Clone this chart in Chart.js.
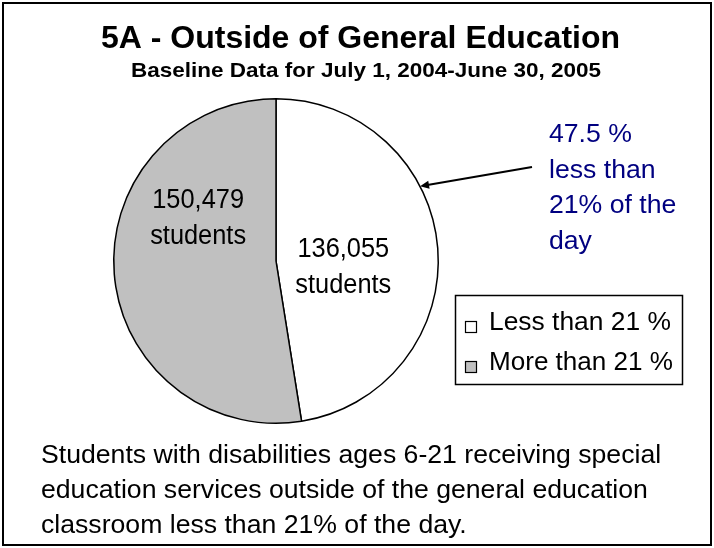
<!DOCTYPE html>
<html>
<head>
<meta charset="utf-8">
<script src="https://cdn.jsdelivr.net/npm/chart.js@4.4.1/dist/chart.umd.min.js"></script>
<style>
  html, body { margin: 0; padding: 0; background: #ffffff; }
  canvas { display: block; }
</style>
</head>
<body>
<canvas id="c" width="714" height="548"></canvas>
<script>
// ---- data ----
const categories = ['Less than 21 %', 'More than 21 %'];
const studentCounts = [136055, 150479];
const sliceLabels = [['136,055', 'students'], ['150,479', 'students']];
const sliceColors = ['#ffffff', '#c0c0c0'];
const titleText = '5A - Outside of General Education';
const subtitleText = 'Baseline Data for July 1, 2004-June 30, 2005';
const calloutLines = ['47.5 %', 'less than', '21% of the', 'day'];
const footnoteLines = [
  'Students with disabilities ages 6-21 receiving special',
  'education services outside of the general education',
  'classroom less than 21% of the day.'
];

const FONT = '"Liberation Sans", Arial, Helvetica, sans-serif';

function drawText(ctx, str, x, y, font, color, align, sx) {
  ctx.save();
  ctx.font = font;
  ctx.fillStyle = color;
  ctx.textAlign = align;
  ctx.textBaseline = 'alphabetic';
  ctx.translate(x, y);
  ctx.scale(sx, 1);
  ctx.fillText(str, 0, 0);
  ctx.restore();
}
function drawFitted(ctx, str, x, y, font, color, width, align) {
  ctx.save();
  ctx.font = font;
  const w = ctx.measureText(str).width;
  ctx.restore();
  drawText(ctx, str, x, y, font, color, align || 'center', width / w);
}

const decorPlugin = {
  id: 'decor',
  afterDraw(chart) {
    const ctx = chart.ctx;
    const arcs = chart.getDatasetMeta(0).data;
    const cx = arcs[0].x, cy = arcs[0].y, r = arcs[0].outerRadius;

    // outer frame
    ctx.save();
    ctx.strokeStyle = '#000';
    ctx.lineWidth = 2;
    ctx.strokeRect(3, 3, 708, 542);
    ctx.restore();

    // title + subtitle
    drawFitted(ctx, titleText, 360.5, 48, 'bold 32px ' + FONT, '#000', 519);
    drawFitted(ctx, subtitleText, 366, 77, 'bold 21px ' + FONT, '#000', 470);

    // slice labels
    const lblFont = '27px ' + FONT;
    const white = sliceLabels[0], grey = sliceLabels[1];
    drawText(ctx, white[0], cx + r * 0.415, 257, lblFont, '#000', 'center', 0.94);
    drawText(ctx, white[1], cx + r * 0.415, 293, lblFont, '#000', 'center', 0.94);
    drawText(ctx, grey[0], cx - r * 0.48, 208, lblFont, '#000', 'center', 0.94);
    drawText(ctx, grey[1], cx - r * 0.48, 244, lblFont, '#000', 'center', 0.94);

    // callout
    const cFont = '25px ' + FONT;
    const cBase = [142, 177.5, 213, 248.5];
    calloutLines.forEach((t, i) => drawText(ctx, t, 549, cBase[i], cFont, '#000080', 'left', 1.065));

    // arrow from callout to pie edge
    const ang = -27.4 * Math.PI / 180;
    const tx = cx + r * Math.cos(ang), ty = cy + r * Math.sin(ang);
    const sx0 = 532, sy0 = 167;
    const a = Math.atan2(ty - sy0, tx - sx0);
    ctx.save();
    ctx.strokeStyle = '#000';
    ctx.fillStyle = '#000';
    ctx.lineWidth = 2;
    ctx.beginPath();
    ctx.moveTo(sx0, sy0);
    ctx.lineTo(tx - 6 * Math.cos(a), ty - 6 * Math.sin(a));
    ctx.stroke();
    ctx.beginPath();
    ctx.moveTo(tx, ty);
    ctx.lineTo(tx - 9 * Math.cos(a) + 4 * Math.sin(a), ty - 9 * Math.sin(a) - 4 * Math.cos(a));
    ctx.lineTo(tx - 9 * Math.cos(a) - 4 * Math.sin(a), ty - 9 * Math.sin(a) + 4 * Math.cos(a));
    ctx.closePath();
    ctx.fill();
    ctx.restore();

    // legend
    ctx.save();
    ctx.strokeStyle = '#000';
    ctx.lineWidth = 1.5;
    ctx.strokeRect(455.5, 295.5, 227, 89);
    const lBase = [330, 370];
    categories.forEach((name, i) => {
      ctx.fillStyle = sliceColors[i];
      ctx.fillRect(465.5, lBase[i] - 8.5, 11, 11);
      ctx.lineWidth = 1.2;
      ctx.strokeRect(465.5, lBase[i] - 8.5, 11, 11);
      drawFitted(ctx, name, 489, lBase[i], '25px ' + FONT, '#000', i === 0 ? 182 : 184, 'left');
    });
    ctx.restore();

    // footnote
    const fBase = [463, 498, 533];
    footnoteLines.forEach((t, i) => drawText(ctx, t, 41, fBase[i], '25px ' + FONT, '#000', 'left', 1.065));
  }
};

new Chart(document.getElementById('c'), {
  type: 'pie',
  data: {
    labels: categories,
    datasets: [{
      data: studentCounts,
      backgroundColor: sliceColors,
      borderColor: '#000000',
      borderWidth: 1.5
    }]
  },
  options: {
    responsive: false,
    animation: false,
    layout: { padding: { left: 113, right: 275, top: 98, bottom: 124 } },
    plugins: {
      legend: { display: false },
      tooltip: { enabled: false },
      title: { display: false }
    }
  },
  plugins: [decorPlugin]
});
</script>
</body>
</html>
